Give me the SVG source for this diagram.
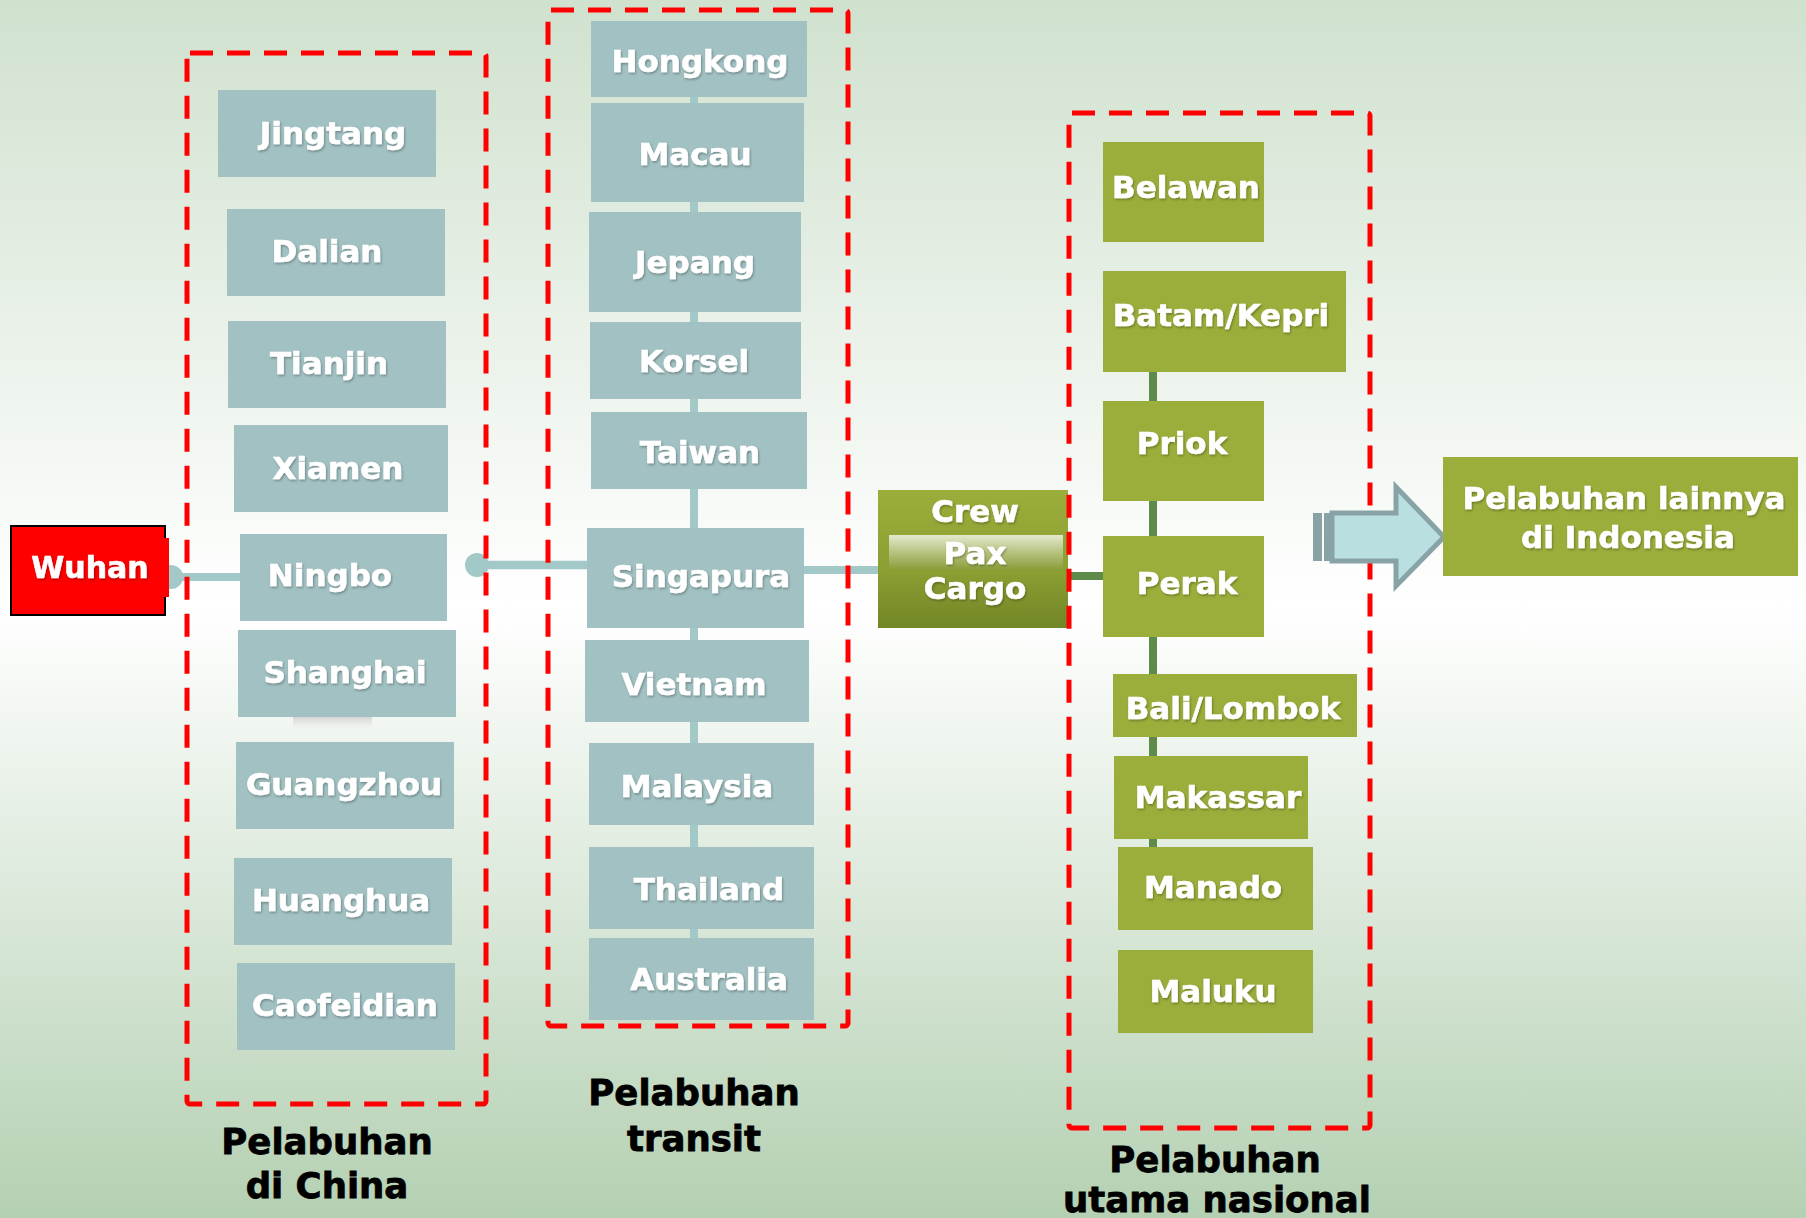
<svg xmlns="http://www.w3.org/2000/svg" width="1806" height="1218" viewBox="0 0 1806 1218">
<defs>
<linearGradient id="bg" x1="0" y1="0" x2="0" y2="1">
<stop offset="0" stop-color="#d0e1ce"/>
<stop offset="0.5" stop-color="#ffffff"/>
<stop offset="1" stop-color="#b4d0b2"/>
</linearGradient>
<linearGradient id="crewg" x1="0" y1="0" x2="0" y2="1">
<stop offset="0" stop-color="#9bae3b"/>
<stop offset="0.6" stop-color="#8a9e32"/>
<stop offset="1" stop-color="#718626"/>
</linearGradient>
<linearGradient id="paxg" x1="0" y1="0" x2="0" y2="1">
<stop offset="0" stop-color="#e3e9cb"/>
<stop offset="1" stop-color="#869b33"/>
</linearGradient>
<linearGradient id="shad" x1="0" y1="0" x2="0" y2="1">
<stop offset="0" stop-color="#d4d4d4"/>
<stop offset="1" stop-color="#f4f4f4" stop-opacity="0.2"/>
</linearGradient>
<filter id="ts" x="-10%" y="-20%" width="120%" height="150%">
<feDropShadow dx="1" dy="1.5" stdDeviation="1" flood-color="#000" flood-opacity="0.3"/>
</filter>
</defs>
<style>
.t{font-family:"DejaVu Sans","Verdana",sans-serif;font-weight:bold;font-size:31px;fill:#ffffff;stroke:#ffffff;stroke-width:0.6;text-anchor:middle;filter:url(#ts)}
.lbl{font-family:"DejaVu Sans","Verdana",sans-serif;font-weight:bold;font-size:35.5px;fill:#000000;stroke:#000000;stroke-width:0.8;text-anchor:middle}
.cn{fill:#a2c1c2}
.gn{fill:#9bae3b}
.dash{fill:none;stroke:#ff0000;stroke-width:5;stroke-dasharray:23 14}
.bl{stroke:#a2c8c8;fill:none}
.gl{stroke:#5f8b4a;fill:none}
</style>
<rect x="0" y="0" width="1806" height="1218" fill="url(#bg)"/>

<g id="connectors">
<line class="bl" x1="170" y1="577" x2="240" y2="577" stroke-width="8"/>
<circle cx="171" cy="577" r="12" fill="#a2c8c8"/>
<line class="bl" x1="477" y1="565" x2="587" y2="565" stroke-width="8.5"/>
<circle cx="477" cy="565" r="12" fill="#a2c8c8"/>
<line class="bl" x1="694" y1="96" x2="694" y2="940" stroke-width="8"/>
<line class="bl" x1="804" y1="570" x2="878" y2="570" stroke-width="8"/>
<line class="gl" x1="1153" y1="372" x2="1153" y2="848" stroke-width="8"/>
<line class="gl" x1="1068" y1="576" x2="1103" y2="576" stroke-width="8"/>
</g>

<rect x="293" y="717" width="79" height="13" fill="url(#shad)"/>

<g id="wuhan">
<rect x="11" y="526" width="154" height="89" fill="#ff0000" stroke="#000" stroke-width="2"/>
<rect x="160" y="538" width="9" height="59" fill="#ff0000"/>
<text class="t" x="90" y="578" style="font-size:30px">Wuhan</text>
</g>

<g id="jingtang"><rect class="cn" x="218" y="90" width="218" height="87"/><text class="t" x="333" y="144">Jingtang</text></g>
<g id="dalian"><rect class="cn" x="227" y="209" width="218" height="87"/><text class="t" x="327" y="262">Dalian</text></g>
<g id="tianjin"><rect class="cn" x="228" y="321" width="218" height="87"/><text class="t" x="329" y="374">Tianjin</text></g>
<g id="xiamen"><rect class="cn" x="234" y="425" width="214" height="87"/><text class="t" x="338" y="479">Xiamen</text></g>
<g id="ningbo"><rect class="cn" x="240" y="534" width="207" height="87"/><text class="t" x="330" y="586">Ningbo</text></g>
<g id="shanghai"><rect class="cn" x="238" y="630" width="218" height="87"/><text class="t" x="345" y="683">Shanghai</text></g>
<g id="guangzhou"><rect class="cn" x="236" y="742" width="218" height="87"/><text class="t" x="344" y="795">Guangzhou</text></g>
<g id="huanghua"><rect class="cn" x="234" y="858" width="218" height="87"/><text class="t" x="341" y="911">Huanghua</text></g>
<g id="caofeidian"><rect class="cn" x="237" y="963" width="218" height="87"/><text class="t" x="345" y="1016">Caofeidian</text></g>

<g id="hongkong"><rect class="cn" x="591" y="21" width="216" height="76"/><text class="t" x="700" y="72">Hongkong</text></g>
<g id="macau"><rect class="cn" x="591" y="103" width="213" height="99"/><text class="t" x="695" y="165">Macau</text></g>
<g id="jepang"><rect class="cn" x="589" y="212" width="212" height="100"/><text class="t" x="695" y="273">Jepang</text></g>
<g id="korsel"><rect class="cn" x="590" y="322" width="211" height="77"/><text class="t" x="694" y="372">Korsel</text></g>
<g id="taiwan"><rect class="cn" x="591" y="412" width="216" height="77"/><text class="t" x="700" y="463">Taiwan</text></g>
<g id="singapura"><rect class="cn" x="587" y="528" width="217" height="100"/><text class="t" x="701" y="587">Singapura</text></g>
<g id="vietnam"><rect class="cn" x="585" y="640" width="224" height="82"/><text class="t" x="694" y="695">Vietnam</text></g>
<g id="malaysia"><rect class="cn" x="589" y="743" width="225" height="82"/><text class="t" x="697" y="797">Malaysia</text></g>
<g id="thailand"><rect class="cn" x="589" y="847" width="225" height="82"/><text class="t" x="709" y="900">Thailand</text></g>
<g id="australia"><rect class="cn" x="589" y="938" width="225" height="82"/><text class="t" x="709" y="990">Australia</text></g>

<g id="crew">
<rect x="878" y="490" width="190" height="138" fill="url(#crewg)"/>
<rect x="889" y="535" width="174" height="36" fill="url(#paxg)"/>
<text class="t" x="975" y="522">Crew</text>
<text class="t" x="975" y="564">Pax</text>
<text class="t" x="975" y="599">Cargo</text>
</g>

<g id="belawan"><rect class="gn" x="1103" y="142" width="161" height="100"/><text class="t" x="1186" y="198">Belawan</text></g>
<g id="batam"><rect class="gn" x="1103" y="271" width="243" height="101"/><text class="t" x="1221" y="326">Batam/Kepri</text></g>
<g id="priok"><rect class="gn" x="1103" y="401" width="161" height="100"/><text class="t" x="1182" y="454">Priok</text></g>
<g id="perak"><rect class="gn" x="1103" y="536" width="161" height="101"/><text class="t" x="1187" y="594">Perak</text></g>
<g id="bali"><rect class="gn" x="1113" y="674" width="244" height="63"/><text class="t" x="1233" y="719">Bali/Lombok</text></g>
<g id="makassar"><rect class="gn" x="1114" y="756" width="194" height="83"/><text class="t" x="1218" y="808">Makassar</text></g>
<g id="manado"><rect class="gn" x="1118" y="847" width="195" height="83"/><text class="t" x="1213" y="898">Manado</text></g>
<g id="maluku"><rect class="gn" x="1118" y="950" width="195" height="83"/><text class="t" x="1213" y="1002">Maluku</text></g>

<g id="groups">
<rect class="dash" x="187" y="53" width="299" height="1051" rx="3"/>
<rect class="dash" x="548" y="10" width="300" height="1016" rx="3"/>
<rect class="dash" x="1069" y="113" width="301" height="1015" rx="3"/>
</g>

<g id="arrow">
<rect x="1313" y="513" width="9" height="48" fill="#88a3a6"/>
<rect x="1324" y="513" width="6" height="48" fill="#88a3a6"/>
<polygon points="1332,513 1396,513 1396,487 1444,537 1396,586 1396,561 1332,561" fill="#b9dfe1" stroke="#88a3a6" stroke-width="5" stroke-linejoin="miter"/>
</g>

<g id="lainnya">
<rect class="gn" x="1443" y="457" width="355" height="119"/>
<text class="t" x="1624" y="509">Pelabuhan lainnya</text>
<text class="t" x="1628" y="548">di Indonesia</text>
</g>

<g id="labels">
<text class="lbl" x="327" y="1154">Pelabuhan</text>
<text class="lbl" x="327" y="1198">di China</text>
<text class="lbl" x="694" y="1105">Pelabuhan</text>
<text class="lbl" x="694" y="1151">transit</text>
<text class="lbl" x="1215" y="1172">Pelabuhan</text>
<text class="lbl" x="1217" y="1212">utama nasional</text>
</g>
</svg>
